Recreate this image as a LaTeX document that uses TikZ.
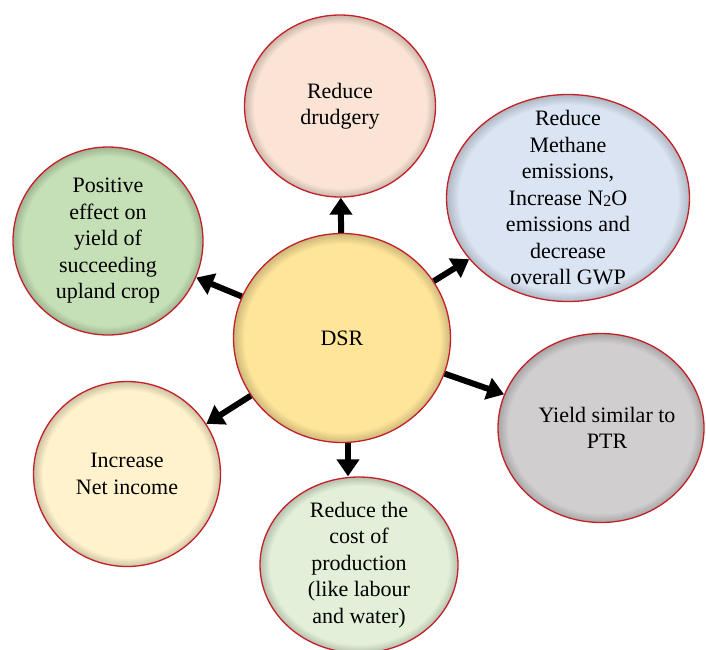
\documentclass[tikz,border=0pt]{standalone}
\usepackage{fontspec}
\setmainfont{Liberation Serif}
\usetikzlibrary{shapes.geometric, arrows.meta}
\definecolor{rimred}{RGB}{196,32,40}
\definecolor{dsrgold}{RGB}{255,229,153}
\definecolor{peach}{RGB}{251,228,213}
\definecolor{skyblue}{RGB}{218,228,242}
\definecolor{leafgreen}{RGB}{197,224,182}
\definecolor{ashgray}{RGB}{208,206,207}
\definecolor{cream}{RGB}{255,242,204}
\definecolor{mintgreen}{RGB}{226,240,217}
\colorlet{rimin}{white}
\colorlet{rimout}{white}
\pgfdeclareradialshading[rimin,rimout]{rim}{\pgfpointorigin}{%
  color(0bp)=(rimin); color(22.5bp)=(rimin); color(25bp)=(rimout); color(50bp)=(rimout)}

\begin{document}
\begin{tikzpicture}[
  x=1pt, y=-1pt,
  bubble/.style={
    ellipse, draw=rimred, line width=1.3pt, inner sep=0pt,
    /utils/exec={\colorlet{rimin}{#1}\colorlet{rimout}{#1!80!black}},
    shading=rim
  },
  txt/.style={align=center, font=\fontsize{22}{26.5}\selectfont},
  arw/.style={-{Triangle[length=17pt,width=22pt]}, line width=6pt, draw=black}
]
\useasboundingbox (0,0) rectangle (706,649);

% ---- DSR in the middle ----
\node[bubble=dsrgold, minimum width=217pt, minimum height=209pt] (dsr) at (342,338) {};
\node[txt] (dsrtxt) at (dsr) {DSR};

% ---- benefits around it ----
\node[bubble=peach, minimum width=191pt, minimum height=182pt] (drudge) at (340,106) {};
\node[txt] (drudgetxt) at (drudge) {Reduce\\drudgery};

\node[bubble=skyblue, minimum width=243pt, minimum height=207pt] (ghg) at (568,198) {};
\node[txt] (ghgtxt) at (ghg) {Reduce\\Methane\\emissions,\\Increase N\raisebox{-1pt}{\fontsize{16}{16}\selectfont 2}O\\emissions and\\decrease\\overall GWP};

\node[bubble=leafgreen, minimum width=190pt, minimum height=188pt] (upland) at (108,241) {};
\node[txt] (uplandtxt) at (upland) {Positive\\effect on\\yield of\\succeeding\\upland crop};

\node[bubble=ashgray, minimum width=206pt, minimum height=189pt] (ptr) at (601,428) {};
\node[txt] (ptrtxt) at ([xshift=6pt]ptr.center) {Yield similar to\\PTR};

\node[bubble=cream, minimum width=187pt, minimum height=185pt] (income) at (127,474) {};
\node[txt] (incometxt) at (income) {Increase\\Net income};

\node[bubble=mintgreen, minimum width=198pt, minimum height=176pt] (cost) at (359,565) {};
\node[txt] (costtxt) at (cost) {Reduce the\\cost of\\production\\(like labour\\and water)};

% ---- arrows out of DSR ----
\foreach \t in {drudge, ghg, ptr, income, upland}{
  \draw[arw] (dsr) -- (\t);
}
\draw[arw] ([xshift=6pt]dsr.south) -- ([xshift=6pt]dsr.south |- cost.north);

\end{tikzpicture}
\end{document}
